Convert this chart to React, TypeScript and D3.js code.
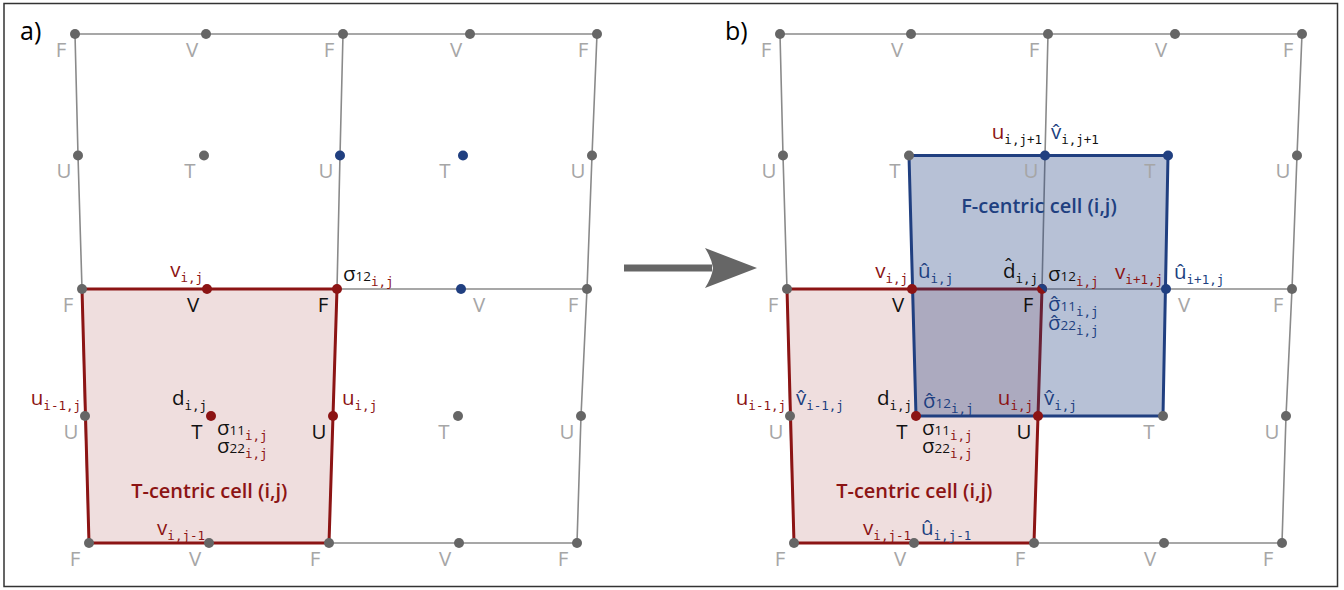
import React from "react";
import * as d3 from "d3";

// ---- grid geometry (panel a coordinates; panel b is the same grid shifted) ----
const ROW_Y = [34, 155.5, 289, 416, 543];
const COL_X = [
  [75, 206, 343, 470, 597],
  [78, 204, 340, 463, 592],
  [82, 207, 337, 461, 587],
  [85, 211, 333, 458, 581],
  [89, 209, 329, 459, 577],
];
const NODE_TYPES = [
  ["F", "V", "F", "V", "F"],
  ["U", "T", "U", "T", "U"],
  ["F", "V", "F", "V", "F"],
  ["U", "T", "U", "T", "U"],
  ["F", "V", "F", "V", "F"],
];
const PANEL_OFFSETS = [0, 705];
const PANEL_TAGS = ["a)", "b)"];

const NODE_COLORS_A = [
  ["g", "g", "g", "g", "g"],
  ["g", "g", "b", "b", "g"],
  ["g", "r", "r", "b", "g"],
  ["g", "r", "r", "g", "g"],
  ["g", "g", "g", "g", "g"],
];
const NODE_COLORS_B = [
  ["g", "g", "g", "g", "g"],
  ["g", "g", "b", "b", "g"],
  ["g", "r", "rb", "b", "g"],
  ["g", "r", "r", "g", "g"],
  ["g", "g", "g", "g", "g"],
];
const DARK_LETTERS = ["2,1", "2,2", "3,1", "3,2"];

const T_CELL = [[2, 0], [2, 2], [4, 2], [4, 0]];
const F_CELL = [[1, 1], [1, 3], [3, 3], [3, 1]];

// label parts: [text, role, color]
type Part = [string, string, string];
type Lab = { node: number[]; anchor: string; dx: number; dy: number; parts: Part[] };

const LABELS_A: Lab[] = [
  { node: [2, 1], anchor: "end", dx: -4, dy: -12, parts: [["v", "main", "r"], ["i,j", "sub", "r"]] },
  { node: [2, 2], anchor: "start", dx: 6, dy: -8, parts: [["σ", "main", "k"], ["12", "num", "k"], ["i,j", "sub", "r"]] },
  { node: [3, 0], anchor: "end", dx: -4, dy: -11, parts: [["u", "main", "r"], ["i-1,j", "sub", "r"]] },
  { node: [3, 1], anchor: "end", dx: -4, dy: -11, parts: [["d", "main", "k"], ["i,j", "sub", "k"]] },
  { node: [3, 2], anchor: "start", dx: 9, dy: -11, parts: [["u", "main", "r"], ["i,j", "sub", "r"]] },
  { node: [3, 1], anchor: "start", dx: 6, dy: 19, parts: [["σ", "main", "k"], ["11", "num", "k"], ["i,j", "sub", "r"]] },
  { node: [3, 1], anchor: "start", dx: 6, dy: 37, parts: [["σ", "main", "k"], ["22", "num", "k"], ["i,j", "sub", "r"]] },
  { node: [4, 1], anchor: "end", dx: -4, dy: -8, parts: [["v", "main", "r"], ["i,j-1", "sub", "r"]] },
];

const LABELS_B: Lab[] = [
  { node: [1, 2], anchor: "end", dx: -3, dy: -17, parts: [["u", "main", "r"], ["i,j+1", "sub", "k"]] },
  { node: [1, 2], anchor: "start", dx: 6, dy: -17, parts: [["v\u0302", "main", "b"], ["i,j+1", "sub", "k"]] },
  { node: [2, 1], anchor: "end", dx: -4, dy: -11, parts: [["v", "main", "r"], ["i,j", "sub", "r"]] },
  { node: [2, 1], anchor: "start", dx: 6, dy: -11, parts: [["û", "main", "b"], ["i,j", "sub", "b"]] },
  { node: [2, 2], anchor: "end", dx: -4, dy: -11, parts: [["d\u0302", "main", "k"], ["i,j", "sub", "k"]] },
  { node: [2, 2], anchor: "start", dx: 6, dy: -8, parts: [["σ", "main", "k"], ["12", "num", "k"], ["i,j", "sub", "r"]] },
  { node: [2, 3], anchor: "end", dx: -3, dy: -10, parts: [["v", "main", "r"], ["i+1,j", "sub", "r"]] },
  { node: [2, 3], anchor: "start", dx: 8, dy: -10, parts: [["û", "main", "b"], ["i+1,j", "sub", "b"]] },
  { node: [2, 2], anchor: "start", dx: 6, dy: 22, parts: [["σ\u0302", "main", "b"], ["11", "num", "b"], ["i,j", "sub", "b"]] },
  { node: [2, 2], anchor: "start", dx: 6, dy: 41, parts: [["σ\u0302", "main", "b"], ["22", "num", "b"], ["i,j", "sub", "b"]] },
  { node: [3, 0], anchor: "end", dx: -4, dy: -11, parts: [["u", "main", "r"], ["i-1,j", "sub", "r"]] },
  { node: [3, 0], anchor: "start", dx: 6, dy: -11, parts: [["v\u0302", "main", "b"], ["i-1,j", "sub", "b"]] },
  { node: [3, 1], anchor: "end", dx: -4, dy: -11, parts: [["d", "main", "k"], ["i,j", "sub", "k"]] },
  { node: [3, 1], anchor: "start", dx: 7, dy: -8, parts: [["σ\u0302", "main", "b"], ["12", "num", "b"], ["i,j", "sub", "b"]] },
  { node: [3, 2], anchor: "end", dx: -5, dy: -11, parts: [["u", "main", "r"], ["i,j", "sub", "r"]] },
  { node: [3, 2], anchor: "start", dx: 6, dy: -11, parts: [["v\u0302", "main", "b"], ["i,j", "sub", "b"]] },
  { node: [3, 1], anchor: "start", dx: 6, dy: 19, parts: [["σ", "main", "k"], ["11", "num", "k"], ["i,j", "sub", "r"]] },
  { node: [3, 1], anchor: "start", dx: 6, dy: 37, parts: [["σ", "main", "k"], ["22", "num", "k"], ["i,j", "sub", "r"]] },
  { node: [4, 1], anchor: "end", dx: -3, dy: -8, parts: [["v", "main", "r"], ["i,j-1", "sub", "r"]] },
  { node: [4, 1], anchor: "start", dx: 7, dy: -8, parts: [["û", "main", "b"], ["i,j-1", "sub", "b"]] },
];

const CELL_TITLES = [
  { panel: 0, cell: "T", text: "T-centric cell (i,j)", color: "r", dy: 209 },
  { panel: 1, cell: "T", text: "T-centric cell (i,j)", color: "r", dy: 209 },
  { panel: 1, cell: "F", text: "F-centric cell (i,j)", color: "b", dy: 57 },
];

const COLORS: Record<string, string> = {
  r: "#8c1414",
  b: "#203f80",
  k: "#111111",
  g: "#666666",
  lg: "#a6a6a6",
};
const FONT = "'Open Sans', 'Noto Sans', sans-serif";
const MONO = "'DejaVu Sans Mono', monospace";

function Label({ x, y, anchor, parts }: { x: number; y: number; anchor: string; parts: Part[] }) {
  return (
    <text x={x} y={y} textAnchor={anchor as any}>
      {parts.map(([t, role, c], i) => {
        const prev = i > 0 ? parts[i - 1][1] : "main";
        let dy = 0;
        if (role === "sub" && prev !== "sub") dy = 5;
        if (role !== "sub" && prev === "sub") dy = -5;
        return (
          <tspan
            key={i}
            dy={dy || undefined}
            fill={COLORS[c]}
            fontFamily={role === "sub" ? MONO : FONT}
            fontSize={role === "main" ? 20.5 : role === "num" ? 13.5 : 12.5}
          >
            {t}
          </tspan>
        );
      })}
    </text>
  );
}

export default function App() {
  const W = 1344;
  const H = 590;
  const y = d3.scaleLinear().domain([0, H]).range([0, H]);
  const line = d3.line<number[]>().x((d) => d[0]).y((d) => d[1]);
  const dotArc = d3.arc()({ innerRadius: 0, outerRadius: 5, startAngle: -Math.PI / 4, endAngle: (3 * Math.PI) / 4 } as any) as string;

  const panels = PANEL_OFFSETS.map((off, p) => {
    const x = d3.scaleLinear().domain([0, 600]).range([off, off + 600]);
    const pt = (r: number, c: number) => [x(COL_X[r][c]), y(ROW_Y[r])];
    const nodeColors = p === 0 ? NODE_COLORS_A : NODE_COLORS_B;
    const labels = p === 0 ? LABELS_A : LABELS_B;

    const gridLines: number[][][] = [];
    [0, 2, 4].forEach((r) => gridLines.push([0, 1, 2, 3, 4].map((c) => pt(r, c))));
    [0, 2, 4].forEach((c) => gridLines.push([0, 1, 2, 3, 4].map((r) => pt(r, c))));

    const tPoly = T_CELL.map(([r, c]) => pt(r, c));
    const fPoly = F_CELL.map(([r, c]) => pt(r, c));

    return (
      <g key={p}>
        <text x={off + 20} y={40} fontFamily={FONT} fontWeight={500} fontSize={25} fill="#000">
          {PANEL_TAGS[p]}
        </text>
        {gridLines.map((l, i) => (
          <path key={"gl" + i} d={line(l) as string} fill="none" stroke="#8a8a8a" strokeWidth={1.6} />
        ))}
        <path d={(line(tPoly) as string) + "Z"} fill={COLORS.r} fillOpacity={0.14} stroke="none" />
        <path d={(line(tPoly) as string) + "Z"} fill="none" stroke={COLORS.r} strokeWidth={3} strokeLinejoin="round" />
        {p === 1 && (
          <>
            <path d={(line(fPoly) as string) + "Z"} fill={COLORS.b} fillOpacity={0.32} stroke="none" />
            <path d={(line(fPoly) as string) + "Z"} fill="none" stroke={COLORS.b} strokeWidth={3} strokeLinejoin="round" />
          </>
        )}
        {CELL_TITLES.filter((t) => t.panel === p).map((t, i) => {
          const poly = t.cell === "T" ? tPoly : fPoly;
          const cx = d3.mean(poly, (d) => d[0]) as number;
          const top = d3.min(poly, (d) => d[1]) as number;
          return (
            <text key={"ct" + i} x={cx} y={top + t.dy} textAnchor="middle" fontFamily={FONT} fontWeight={600} fontSize={20} fill={COLORS[t.color]}>
              {t.text}
            </text>
          );
        })}
        {NODE_TYPES.map((row, r) =>
          row.map((tp, c) => {
            const [px, py] = pt(r, c);
            const dark = DARK_LETTERS.includes(r + "," + c);
            let dx = -14;
            if (r === 2 && c === 3) dx = 18;
            if (r === 1 && c === 3) dx = -18;
            return (
              <text key={"nl" + r + c} x={px + dx} y={py + 22.5} textAnchor="middle" fontFamily={FONT} fontSize={20.5} fill={dark ? COLORS.k : COLORS.lg}>
                {tp}
              </text>
            );
          })
        )}
        {NODE_TYPES.map((row, r) =>
          row.map((tp, c) => {
            const [px, py] = pt(r, c);
            const col = nodeColors[r][c];
            if (col === "rb") {
              return (
                <g key={"nd" + r + c}>
                  <circle cx={px} cy={py} r={5} fill={COLORS.r} />
                  <path d={dotArc} transform={`translate(${px},${py})`} fill={COLORS.b} />
                </g>
              );
            }
            return <circle key={"nd" + r + c} cx={px} cy={py} r={5} fill={COLORS[col]} />;
          })
        )}
        {labels.map((lb, i) => {
          const [px, py] = pt(lb.node[0], lb.node[1]);
          return <Label key={"lb" + i} x={px + lb.dx} y={py + lb.dy} anchor={lb.anchor} parts={lb.parts} />;
        })}
      </g>
    );
  });

  // arrow between panels
  const ax0 = 624, ax1 = 757, ay = 268;
  const head = d3.path();
  head.moveTo(ax1, ay);
  head.lineTo(ax1 - 52, ay - 20);
  head.quadraticCurveTo(ax1 - 45, ay - 9, ax1 - 44, ay);
  head.quadraticCurveTo(ax1 - 45, ay + 9, ax1 - 52, ay + 20);
  head.closePath();

  return (
    <svg width={W} height={H} style={{ position: "absolute", left: 0, top: 0, background: "#fff" }}>
      <rect x={4} y={3.5} width={1333.5} height={583} fill="#fff" stroke="#333" strokeWidth={1.5} />
      {panels}
      <rect x={ax0} y={ay - 3.5} width={ax1 - ax0 - 45} height={7} fill="#666" />
      <path d={head.toString()} fill="#666" />
    </svg>
  );
}
